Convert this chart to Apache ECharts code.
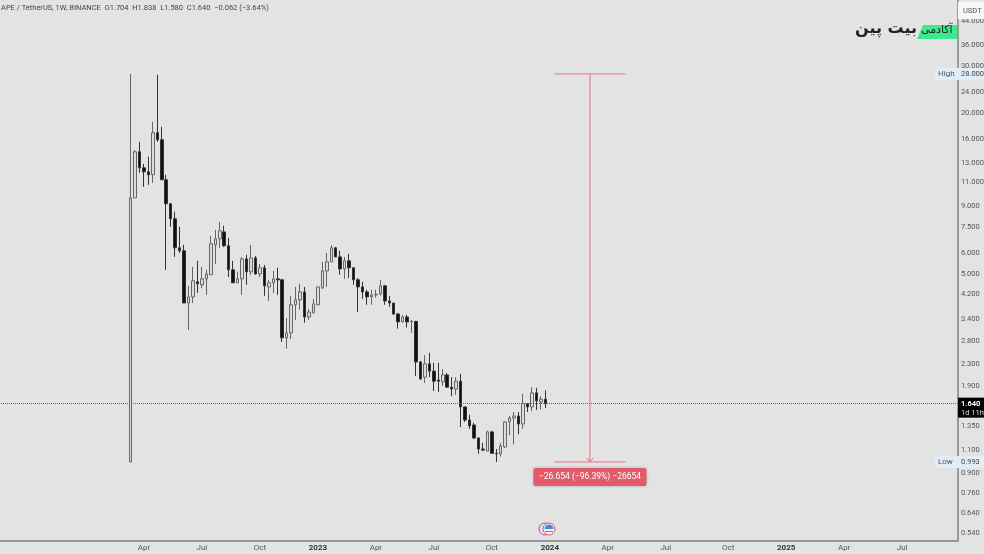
<!DOCTYPE html>
<html>
<head>
<meta charset="utf-8">
<title>APE / TetherUS</title>
<style>
  html, body { margin: 0; padding: 0; background: #e3e3e3; }
  #chart { width: 984px; height: 554px; }
</style>
<script src="https://cdn.jsdelivr.net/npm/echarts@6/dist/echarts.min.js"></script>
</head>
<body>
<div id="chart"></div>
<script>
// weekly candles
const opens = [0.993,9.64,14.33,12.48,12.06,11.76,16.88,15.89,11.26,9.16,8.05,6.27,6.11,3.90,4.11,4.68,4.56,4.80,4.97,6.43,6.77,7.19,6.38,5.19,4.64,4.80,5.70,5.10,5.75,5.01,5.28,4.48,4.64,4.80,4.76,2.89,3.015,3.84,4.01,4.29,3.46,3.58,3.84,4.44,5.14,5.557,6.27,5.80,5.23,5.605,5.28,4.76,4.48,4.29,4.11,4.18,4.22,4.52,3.97,3.90,3.55,3.315,3.46,3.315,3.33,2.349,2.06,2.31,2.17,2.01,1.977,2.10,1.89,1.86,1.99,1.595,1.425,1.365,1.22,1.11,1.09,1.286,1.07,1.065,1.13,1.401,1.45,1.475,1.377,1.64,1.595,1.80,1.665,1.704]
const closes = [9.64,14.33,12.48,12.06,11.76,16.88,15.89,11.26,9.16,8.05,6.27,6.11,3.90,4.11,4.72,4.60,4.80,5.01,6.49,6.77,7.26,6.38,5.19,4.64,4.80,5.70,5.10,5.75,5.01,5.28,4.52,4.64,4.80,4.76,2.89,3.015,3.84,4.01,4.29,3.46,3.61,3.87,4.48,5.14,5.557,6.27,5.80,5.23,5.605,5.28,4.76,4.48,4.29,4.11,4.18,4.20,4.52,3.97,3.90,3.55,3.315,3.46,3.315,3.33,2.349,2.03,2.31,2.17,1.99,1.99,2.10,1.89,1.86,1.99,1.595,1.425,1.354,1.22,1.11,1.10,1.286,1.07,1.065,1.14,1.401,1.45,1.475,1.377,1.64,1.595,1.80,1.68,1.704,1.64]
const lows = [0.993,9.64,11.96,10.60,10.78,10.97,15.62,11.26,5.19,7.51,5.80,6.00,3.90,3.09,3.90,4.255,4.44,4.18,4.97,5.46,6.27,6.32,4.88,4.64,4.64,4.18,4.56,4.97,4.97,4.88,4.15,3.97,4.255,4.18,2.79,2.63,2.86,3.37,3.68,3.29,3.37,3.58,3.84,4.40,4.48,5.557,5.80,4.97,4.80,4.84,4.56,3.61,4.04,3.84,3.84,4.08,4.15,3.84,3.77,3.52,3.13,3.29,3.16,3.015,2.08,2.01,1.96,2.06,1.83,1.814,1.91,1.88,1.75,1.77,1.34,1.401,1.32,1.21,1.065,1.09,1.09,1.07,0.993,1.04,1.12,1.25,1.155,1.26,1.32,1.527,1.54,1.555,1.56,1.58]
const highs = [28,14.58,15.62,12.92,13.73,18.55,27.8,17.77,11.76,9.23,8.55,7.51,6.43,4.52,5.32,5.605,5.32,5.19,6.95,7.32,7.84,7.58,6.83,5.605,5.10,5.80,5.90,6.43,5.85,5.46,5.41,4.76,5.14,5.28,4.80,3.43,4.15,4.48,4.60,4.48,3.71,4.04,4.48,5.557,6.00,6.43,6.32,6.11,5.80,5.95,5.28,4.84,4.68,4.37,4.37,4.37,4.76,4.56,4.15,3.90,3.58,3.52,3.52,3.37,3.34,2.37,2.49,2.54,2.33,2.33,2.21,2.135,2.06,2.06,2.12,1.595,1.49,1.39,1.23,1.17,1.30,1.30,1.11,1.17,1.41,1.475,1.527,1.527,1.785,1.65,1.89,1.88,1.75,1.838]

const yTicks = [0.54,0.64,0.76,0.9,1.1,1.35,1.9,2.3,2.8,3.4,4.2,5,6,7.5,9,11,13,16,20,24,30,36,44]
const xTickWeeks = [3,16,29,42,55,68,81,94,107,120,134,147,160,173]
const xTickNames = ['Apr','Jul','Oct','2023','Apr','Jul','Oct','2024','Apr','Jul','Oct','2025','Apr','Jul']
const priceTags = [
  { name: 'High', price: 28 },
  { name: 'Low', price: 0.993 }
]
const measureRange = [28, 0.993]
const lastPrice = 1.64

const leadBlanks = 29
const totalSlots = 215
const categories = new Array(totalSlots).fill('')
xTickWeeks.forEach((w, i) => { categories[w + leadBlanks] = xTickNames[i] })

const candles = opens.map((o, i) => [i + leadBlanks, o, closes[i], lows[i], highs[i]])

const AXIS_FONT = 'Roboto, "Noto Sans", sans-serif'
const myChart = echarts.init(document.getElementById('chart'))

myChart.setOption({
  animation: false,
  backgroundColor: '#e3e3e3',
  title: {
    text: 'APE / TetherUS, 1W, BINANCE  O1.704  H1.838  L1.580  C1.640  −0.062 (−3.64%)',
    left: 1,
    top: 4,
    padding: 0,
    textStyle: { fontSize: 7.5, fontWeight: 'normal', color: '#444', fontFamily: AXIS_FONT }
  },
  grid: { left: -1, top: 0, width: 958.9, height: 541, outerBoundsMode: 'none' },
  xAxis: {
    type: 'category',
    data: categories,
    boundaryGap: true,
    axisLine: { lineStyle: { color: '#999', width: 2 } },
    axisTick: { show: false },
    splitLine: { show: false },
    axisLabel: {
      interval: (i, v) => v !== '',
      margin: 3,
      fontSize: 8,
      fontFamily: AXIS_FONT,
      color: '#555',
      formatter: v => (/^\d+$/.test(v) ? '{yr|' + v + '}' : v),
      rich: { yr: { fontSize: 8, fontWeight: 'bold', color: '#333', fontFamily: AXIS_FONT } }
    }
  },
  yAxis: {
    type: 'log',
    position: 'right',
    min: 0.503,
    max: 52.9,
    axisLine: { show: true, onZero: false, lineStyle: { color: '#999', width: 2 } },
    axisTick: { show: false },
    splitLine: { show: false },
    axisLabel: {
      customValues: yTicks,
      margin: 3,
      fontSize: 7.5,
      fontFamily: AXIS_FONT,
      color: '#555',
      formatter: v => Number(v).toFixed(3)
    }
  },
  series: [
    {
      type: 'candlestick',
      name: 'APE',
      data: candles,
      encode: { x: 0, y: [1, 2, 3, 4] },
      barWidth: 3,
      itemStyle: {
        color: '#dcdcdc',
        color0: '#111',
        borderColor: '#666',
        borderColor0: '#333',
        borderWidth: 1
      },
      markLine: {
        silent: true,
        symbol: 'none',
        label: { show: false },
        lineStyle: { type: 'dotted', color: '#666', width: 1 },
        data: [{ yAxis: lastPrice }]
      }
    },
    {
      // measuring tool, from the 28 high down to the 0.993 low
      type: 'custom',
      name: 'measure',
      silent: true,
      clip: false,
      data: [[132, measureRange[0], measureRange[1]]],
      encode: { x: 0, y: 1 },
      z: 5,
      renderItem (params, api) {
        const top = api.coord([api.value(0), api.value(1)])
        const bottom = api.coord([api.value(0), api.value(2)])
        const left = api.coord([124, api.value(1)])[0]
        const right = api.coord([140, api.value(1)])[0]
        const stroke = { stroke: '#e5707f', lineWidth: 1 }
        const line = (x1, y1, x2, y2) => ({ type: 'line', shape: { x1, y1, x2, y2 }, style: stroke })
        return {
          type: 'group',
          children: [
            line(left, top[1], right, top[1]),
            line(left, bottom[1], right, bottom[1]),
            line(top[0], top[1], bottom[0], bottom[1]),
            line(bottom[0] - 3, bottom[1] - 4, bottom[0], bottom[1]),
            line(bottom[0] + 3, bottom[1] - 4, bottom[0], bottom[1]),
            {
              type: 'rect',
              shape: { x: top[0] - 56.5, y: bottom[1] + 6, width: 113, height: 18, r: 2 },
              style: { fill: '#e15b6b', shadowBlur: 3, shadowColor: 'rgba(0,0,0,0.25)' }
            },
            {
              type: 'text',
              style: {
                x: top[0],
                y: bottom[1] + 15,
                text: '−26.654 (−96.39%) −26654',
                fill: '#fff',
                fontSize: 8.5,
                fontFamily: AXIS_FONT,
                align: 'center',
                verticalAlign: 'middle'
              }
            }
          ]
        }
      }
    },
    {
      // High / Low tags sitting on the price scale
      type: 'custom',
      name: 'tags',
      silent: true,
      clip: false,
      data: priceTags.map(t => [0, t.price, t.name]),
      encode: { x: 0, y: 1 },
      z: 6,
      renderItem (params, api) {
        const y = api.coord([0, api.value(1)])[1]
        const name = priceTags[params.dataIndex].name
        return {
          type: 'group',
          children: [
            { type: 'rect', shape: { x: 935, y: y - 6, width: 49, height: 12 }, style: { fill: '#e3edf7' } },
            { type: 'text', style: { x: 938, y, text: name, fill: '#555', fontSize: 8, fontFamily: AXIS_FONT, verticalAlign: 'middle' } },
            { type: 'text', style: { x: 961, y, text: api.value(1).toFixed(3), fill: '#444', fontSize: 7.5, fontFamily: AXIS_FONT, verticalAlign: 'middle' } }
          ]
        }
      }
    },
    {
      // last price box
      type: 'custom',
      name: 'lastPrice',
      silent: true,
      clip: false,
      data: [[0, lastPrice]],
      encode: { x: 0, y: 1 },
      z: 6,
      renderItem (params, api) {
        const y = api.coord([0, api.value(1)])[1]
        return {
          type: 'group',
          children: [
            { type: 'rect', shape: { x: 958, y: y - 6, width: 26, height: 20 }, style: { fill: '#000' } },
            { type: 'text', style: { x: 961, y: y, text: lastPrice.toFixed(3), fill: '#fff', fontSize: 7.5, fontWeight: 'bold', fontFamily: AXIS_FONT, verticalAlign: 'middle' } },
            { type: 'text', style: { x: 961, y: y + 9, text: '1d 11h', fill: '#ddd', fontSize: 7.5, fontFamily: AXIS_FONT, verticalAlign: 'middle' } }
          ]
        }
      }
    }
  ],
  graphic: [
    // currency box
    { type: 'rect', left: 958, top: 2, z: 20, shape: { width: 26, height: 17 }, style: { fill: '#f7f7f7' } },
    { type: 'text', left: 963, top: 7, z: 21, style: { text: 'USDT', fill: '#555', fontSize: 7.5, fontFamily: AXIS_FONT } },
    // watermark
    { type: 'text', left: 855, top: 21, z: 20, style: { text: 'بیت پین', fill: '#222', fontSize: 16, fontWeight: 'bold', fontFamily: '"DejaVu Sans"' } },
    {
      type: 'polygon', z: 20,
      shape: { points: [[923, 25], [957, 25], [957, 39], [917, 39]] },
      style: { fill: '#3ee88f' }
    },
    { type: 'text', left: 921, top: 25, z: 21, style: { text: 'آکادمی', fill: '#222', fontSize: 11, fontFamily: '"DejaVu Sans"' } },
    // events icon near the time scale
    { type: 'circle', z: 20, shape: { cx: 545, cy: 529, r: 6 }, style: { fill: 'transparent', stroke: '#a050c8', lineWidth: 1 } },
    { type: 'circle', z: 21, shape: { cx: 549, cy: 529, r: 6 }, style: { fill: '#f4f4f4', stroke: '#e25555', lineWidth: 1 } },
    { type: 'sector', z: 22, shape: { cx: 549, cy: 529, r: 4.5, r0: 0, startAngle: Math.PI, endAngle: Math.PI * 2 }, style: { fill: '#3d8ae0' } },
    { type: 'rect', z: 22, shape: { x: 545, y: 531, width: 8, height: 1 }, style: { fill: '#e25555' } }
  ]
})

window.addEventListener('resize', () => { myChart.resize() })
</script>
</body>
</html>
